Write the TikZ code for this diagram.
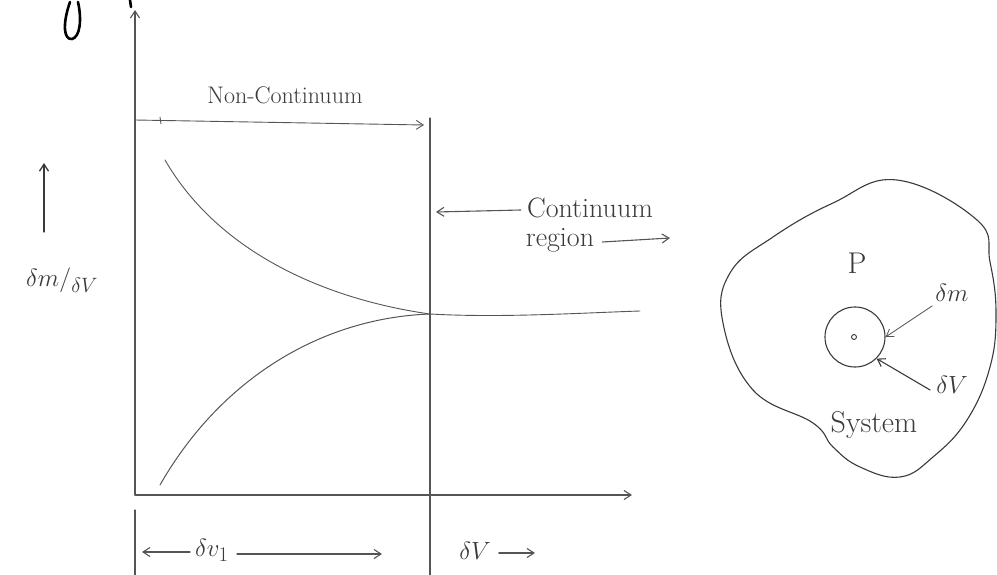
\documentclass[tikz,border=0pt]{standalone}
\usetikzlibrary{arrows.meta}
\definecolor{pencil}{HTML}{555555}
\definecolor{ink}{HTML}{3A3A3A}
\tikzset{
  x=1pt, y=-1pt,
  pline/.style={draw=pencil, line width=1.1pt, line cap=round},
  barb/.style={-{Straight Barb[length=7pt,width=9pt]}},
  lbl/.style={text=ink, inner sep=0pt, font=\fontsize{28}{30}\selectfont},
  smalllbl/.style={text=ink, inner sep=0pt, font=\fontsize{24}{26}\selectfont},
}
\begin{document}
\begin{tikzpicture}
\useasboundingbox (0,0) rectangle (997,575);
% fragments of cut-off heading
\draw[line width=2.6pt, black, line cap=round] (70,2) .. controls (62,25) and (64,40) .. (72,39) .. controls (80,37) and (82,20) .. (78,2);
\draw[line width=2.6pt, black, line cap=round] (130,0) -- (131,7);
% axes
\coordinate (O) at (135,495);
\coordinate (ytop) at (135,10);
\coordinate (xend) at (632,495);
\draw[pline, barb] (O) -- (ytop);
\draw[pline, barb] (O) -- (xend);
% vertical boundary line
\coordinate (vtop) at (430,118);
\coordinate (vbot) at (430,575);
\draw[pline] (vtop) -- (vbot);
\coordinate (tick1) at (135,510);
\coordinate (tick2) at (135,575);
\draw[pline] (tick1) -- (tick2);
% non-continuum arrow
\coordinate (ncL) at (135,120);
\coordinate (ncR) at (424,125);
\draw[pline, barb, line width=0.9pt] (ncL) -- (ncR);
\draw[pline, line width=0.9pt] (160,117) -- (161,124);
\node[smalllbl] (nclabel) at (285,95) {Non-Continuum};
% curves
\coordinate (meet) at (430,314);
\coordinate (flatend) at (640,311);
\draw[pline, line width=0.9pt] (165,160) .. controls (220,255) and (330,300) .. (meet) .. controls (500,318) and (580,313) .. (flatend);
\draw[pline, line width=1.0pt] (160,485) .. controls (220,380) and (320,318) .. (meet);
% y label
\coordinate (yaL) at (44,232);
\coordinate (yaU) at (44,163);
\draw[pline, barb, draw=ink, line width=1.3pt] (yaL) -- (yaU);
\node[lbl, font=\fontsize{32}{34}\selectfont] (ylabel) at (62,280) {$\delta m/_{\delta V}$};
% continuum region label
\node[lbl] (cont) at (590,208) {Continuum};
\node[lbl] (region) at (560,240) {region};
\coordinate (cArrowTip) at (436,212);
\draw[pline, barb] (cont.west) ++(-6,2) -- (cArrowTip);
\coordinate (rArrowTip) at (670,238);
\draw[pline, barb] (region.east) ++(8,2) -- (rArrowTip);
% bottom labels
\node[lbl] (dv1) at (212,550) {$\delta v_{1}$};
\coordinate (dv1L) at (142,552);
\coordinate (dv1R) at (382,554);
\draw[pline, barb] (dv1.west) ++(-5,2) -- (dv1L);
\draw[pline, barb] (dv1.east) ++(8,4) -- (dv1R);
\node[lbl] (dV) at (475,551) {$\delta V$};
\coordinate (dVR) at (535,553);
\draw[pline, barb] (dV.east) ++(8,2) -- (dVR);
% system blob
\draw[draw=ink, line width=1.1pt] plot[smooth cycle, tension=0.7] coordinates {
 (897,180) (977,220) (990,262) (996,313) (990,367) (967,420) (933,457) (900,477)
 (860,467) (833,447) (813,423) (753,390) (723,323) (730,273) (773,237) (833,203)};
\node[draw=ink, circle, line width=1.1pt, minimum size=60pt, inner sep=0pt] (elem) at (855,337) {};
\node[draw=ink, circle, line width=0.9pt, minimum size=5pt, inner sep=0pt] (pt) at (854,337) {};
\node[lbl, font=\fontsize{30}{32}\selectfont] (P) at (857,263) {P};
\node[lbl] (dm) at (952,293) {$\delta m$};
\node[lbl] (dVs) at (952,385) {$\delta V$};
\node[lbl, font=\fontsize{30}{32}\selectfont] (sys) at (874,425) {System};
\draw[pline, barb, line width=0.8pt] (dm.south west) ++(-3,4) -- (elem.east);
\draw[pline, barb, draw=ink] (dVs.west) ++(-6,5) -- (elem.south east);
\end{tikzpicture}
\end{document}
